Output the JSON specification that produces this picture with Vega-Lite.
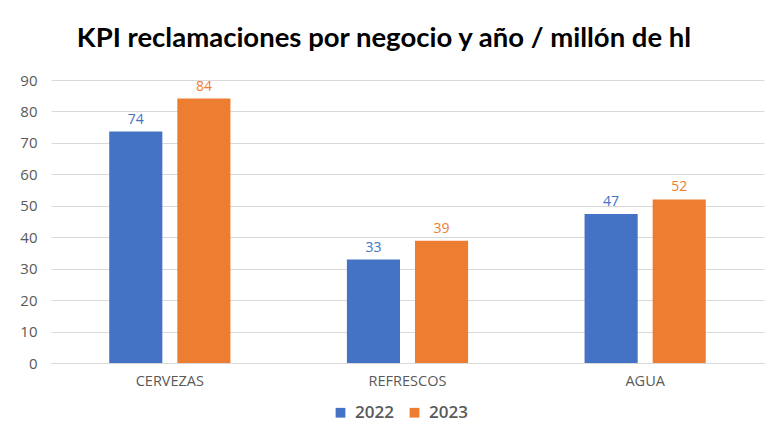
{
  "$schema": "https://vega.github.io/schema/vega-lite/v6.json",
  "width": 713,
  "height": 283,
  "autosize": {"type": "none"},
  "padding": {"left": 51, "top": 80, "right": 8, "bottom": 82},
  "background": "white",
  "title": {
    "text": "KPI reclamaciones por negocio y año / millón de hl",
    "font": "Lato",
    "fontWeight": "bold",
    "fontSize": 27.5,
    "color": "#000000",
    "anchor": "start",
    "dx": 57,
    "offset": 21
  },
  "data": {
    "values": [
      {"negocio": "CERVEZAS", "year": "2022", "value": 73.6},
      {"negocio": "CERVEZAS", "year": "2023", "value": 84.1},
      {"negocio": "REFRESCOS", "year": "2022", "value": 32.9},
      {"negocio": "REFRESCOS", "year": "2023", "value": 38.9},
      {"negocio": "AGUA", "year": "2022", "value": 47.4},
      {"negocio": "AGUA", "year": "2023", "value": 52.0}
    ]
  },
  "encoding": {
    "x": {
      "field": "negocio",
      "type": "nominal",
      "sort": ["CERVEZAS", "REFRESCOS", "AGUA"],
      "scale": {"paddingInner": 0.49, "paddingOuter": 0.245},
      "axis": {
        "title": null,
        "labelAngle": 0,
        "labelFont": "Open Sans",
        "labelFontSize": 14.5,
        "labelColor": "#595959",
        "labelPadding": 11,
        "ticks": false,
        "domainColor": "#d9d9d9"
      }
    },
    "xOffset": {
      "field": "year",
      "type": "nominal",
      "scale": {"paddingInner": 0.22, "paddingOuter": 0}
    },
    "y": {
      "field": "value",
      "type": "quantitative",
      "scale": {"domain": [0, 90]},
      "axis": {
        "title": null,
        "values": [0, 10, 20, 30, 40, 50, 60, 70, 80, 90],
        "labelFont": "Open Sans",
        "labelFontSize": 15,
        "labelColor": "#595959",
        "labelPadding": 14,
        "ticks": false,
        "domain": false,
        "gridColor": "#d9d9d9",
        "gridWidth": 1
      }
    }
  },
  "layer": [
    {
      "mark": {"type": "bar"},
      "encoding": {
        "color": {
          "field": "year",
          "type": "nominal",
          "scale": {"domain": ["2022", "2023"], "range": ["#4472C4", "#ED7D31"]},
          "legend": {
            "title": null,
            "orient": "none",
            "legendX": 281,
            "legendY": 324,
            "direction": "horizontal",
            "symbolType": "square",
            "symbolSize": 95,
            "symbolStrokeWidth": 0,
            "labelFont": "Open Sans",
            "labelFontSize": 17,
            "labelFontWeight": 600,
            "labelColor": "#595959",
            "labelOffset": 6,
            "columnPadding": 12
          }
        }
      }
    },
    {
      "mark": {"type": "text", "dy": -12, "font": "Open Sans", "fontSize": 14},
      "encoding": {
        "text": {"field": "value", "type": "quantitative", "format": ".0f"},
        "color": {
          "field": "year",
          "type": "nominal",
          "scale": {"domain": ["2022", "2023"], "range": ["#3F86D0", "#ED7D31"]},
          "legend": null
        }
      }
    }
  ],
  "config": {
    "view": {"stroke": null}
  }
}
